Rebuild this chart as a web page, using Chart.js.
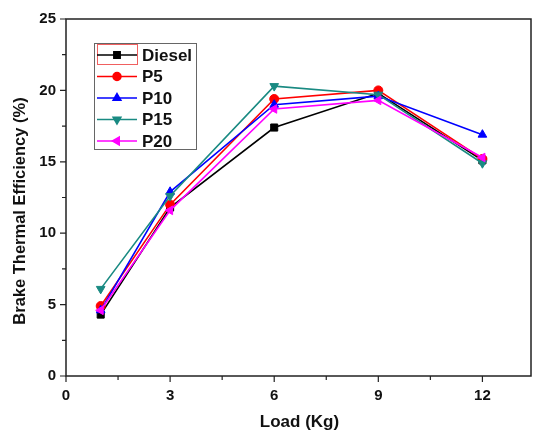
<!DOCTYPE html>
<html>
<head>
<meta charset="utf-8">
<script src="https://cdn.jsdelivr.net/npm/chart.js@4"></script>
<style>
  html, body { margin: 0; padding: 0; background: #fff; }
  canvas { display: block; }
</style>
</head>
<body>
<canvas id="bte" width="533" height="430"></canvas>
<script>
// Load in kg
const loads = [1, 3, 6, 9, 12];

// Brake thermal efficiency (%) per fuel
const diesel = [4.3, 11.8, 17.4, 19.8, 15.1];
const p5 = [4.9, 12.0, 19.4, 20.0, 15.2];
const p10 = [4.6, 12.9, 19.0, 19.6, 16.9];
const p15 = [6.1, 12.6, 20.3, 19.7, 14.9];
const p20 = [4.6, 11.6, 18.7, 19.3, 15.3];

const seriesNames = ['Diesel', 'P5', 'P10', 'P15', 'P20'];
const seriesValues = [diesel, p5, p10, p15, p20];
const seriesColors = ['#000000', '#ff0000', '#0000ff', '#198a82', '#ff00ff'];
const markerStyles = ['rect', 'circle', 'triangle', 'triangle', 'triangle'];
const markerRotations = [0, 0, 0, 180, 270];
const markerSizes = [5, 4.5, 5, 5, 5];

const xMajor = [0, 3, 6, 9, 12];
const yMajor = [0, 5, 10, 15, 20, 25];

const FONT = "'Liberation Sans', Arial, sans-serif";

// later series are painted over earlier ones
const datasets = seriesNames.map((name, i) => ({
    label: name,
    data: loads.map((x, j) => ({ x: x, y: seriesValues[i][j] })),
    order: seriesNames.length - i,
    borderColor: seriesColors[i],
    backgroundColor: seriesColors[i],
    borderWidth: 1.6,
    pointStyle: markerStyles[i],
    pointRotation: markerRotations[i],
    pointRadius: markerSizes[i],
    pointBorderWidth: 1,
    tension: 0
}));

// Box frame, outward tick marks and both axis titles
const framePlugin = {
    id: 'frame',
    afterDraw(chart) {
        const { ctx, chartArea: a, scales } = chart;
        ctx.save();
        ctx.strokeStyle = '#222';
        ctx.lineWidth = 1.5;
        ctx.strokeRect(a.left, a.top, a.right - a.left, a.bottom - a.top);

        ctx.lineWidth = 1.2;
        ctx.beginPath();
        for (let v = 0; v <= 13.5; v += 1.5) {
            const px = scales.x.getPixelForValue(v);
            if (px > a.right) break;
            const len = v % 3 === 0 ? 6 : 4;
            ctx.moveTo(px, a.bottom);
            ctx.lineTo(px, a.bottom + len);
        }
        for (let v = 0; v <= 25; v += 2.5) {
            const py = scales.y.getPixelForValue(v);
            const len = v % 5 === 0 ? 6 : 4;
            ctx.moveTo(a.left, py);
            ctx.lineTo(a.left - len, py);
        }
        ctx.stroke();

        ctx.fillStyle = '#111';
        ctx.textAlign = 'center';
        ctx.textBaseline = 'middle';
        ctx.font = 'bold 17px ' + FONT;
        ctx.fillText('Load (Kg)', (a.left + a.right) / 2 + 1, 422);

        ctx.translate(20, 211);
        ctx.rotate(-Math.PI / 2);
        ctx.font = 'bold 16.5px ' + FONT;
        ctx.fillText('Brake Thermal Efficiency (%)', 0, 0);
        ctx.restore();
    }
};

// Legend box with line sample and marker for each series
const legendPlugin = {
    id: 'boxLegend',
    afterDatasetsDraw(chart) {
        const { ctx } = chart;
        const left = 94, top = 43, width = 102, height = 106;
        const rowH = 21.5;
        ctx.save();
        ctx.fillStyle = '#fff';
        ctx.fillRect(left, top, width, height);
        ctx.strokeStyle = '#666';
        ctx.lineWidth = 1;
        ctx.strokeRect(left + 0.5, top + 0.5, width, height);

        chart.data.datasets.forEach((ds, i) => {
            const cy = 55 + i * rowH;
            if (i === 0) {
                ctx.strokeStyle = '#f06060';
                ctx.lineWidth = 1;
                ctx.strokeRect(97.5, 44.5, 40, 20);
            }
            ctx.strokeStyle = ds.borderColor;
            ctx.lineWidth = 1.5;
            ctx.beginPath();
            ctx.moveTo(97, cy);
            ctx.lineTo(137, cy);
            ctx.stroke();
            ctx.fillStyle = ds.backgroundColor;
            Chart.helpers.drawPoint(ctx, {
                pointStyle: ds.pointStyle,
                rotation: ds.pointRotation,
                radius: ds.pointRadius - 0.5,
                borderWidth: 1
            }, 117, cy);
            ctx.fillStyle = '#111';
            ctx.font = 'bold 17px ' + FONT;
            ctx.textBaseline = 'middle';
            ctx.fillText(ds.label, 142, cy + 1);
        });
        ctx.restore();
    }
};

new Chart(document.getElementById('bte'), {
    type: 'line',
    data: { datasets },
    options: {
        responsive: false,
        animation: false,
        layout: { autoPadding: false, padding: { top: 18, right: 2, left: 0, bottom: 0 } },
        plugins: {
            legend: { display: false },
            tooltip: { enabled: false }
        },
        scales: {
            x: {
                type: 'linear',
                min: 0,
                max: 13.4,
                afterBuildTicks: s => { s.ticks = xMajor.map(v => ({ value: v })); },
                afterFit: s => {
                    s.height = 54;
                    s.paddingLeft = 0;
                    s.paddingRight = 0;
                },
                grid: { display: false, drawTicks: false },
                border: { display: false },
                ticks: {
                    padding: 11,
                    color: '#111',
                    font: { family: FONT, size: 15, weight: 'bold' }
                }
            },
            y: {
                min: 0,
                max: 25,
                afterBuildTicks: s => { s.ticks = yMajor.map(v => ({ value: v })); },
                afterFit: s => { s.width = 66; },
                grid: { display: false, drawTicks: false },
                border: { display: false },
                ticks: {
                    padding: 10,
                    color: '#111',
                    font: { family: FONT, size: 15, weight: 'bold' }
                }
            }
        }
    },
    plugins: [framePlugin, legendPlugin]
});
</script>
</body>
</html>
